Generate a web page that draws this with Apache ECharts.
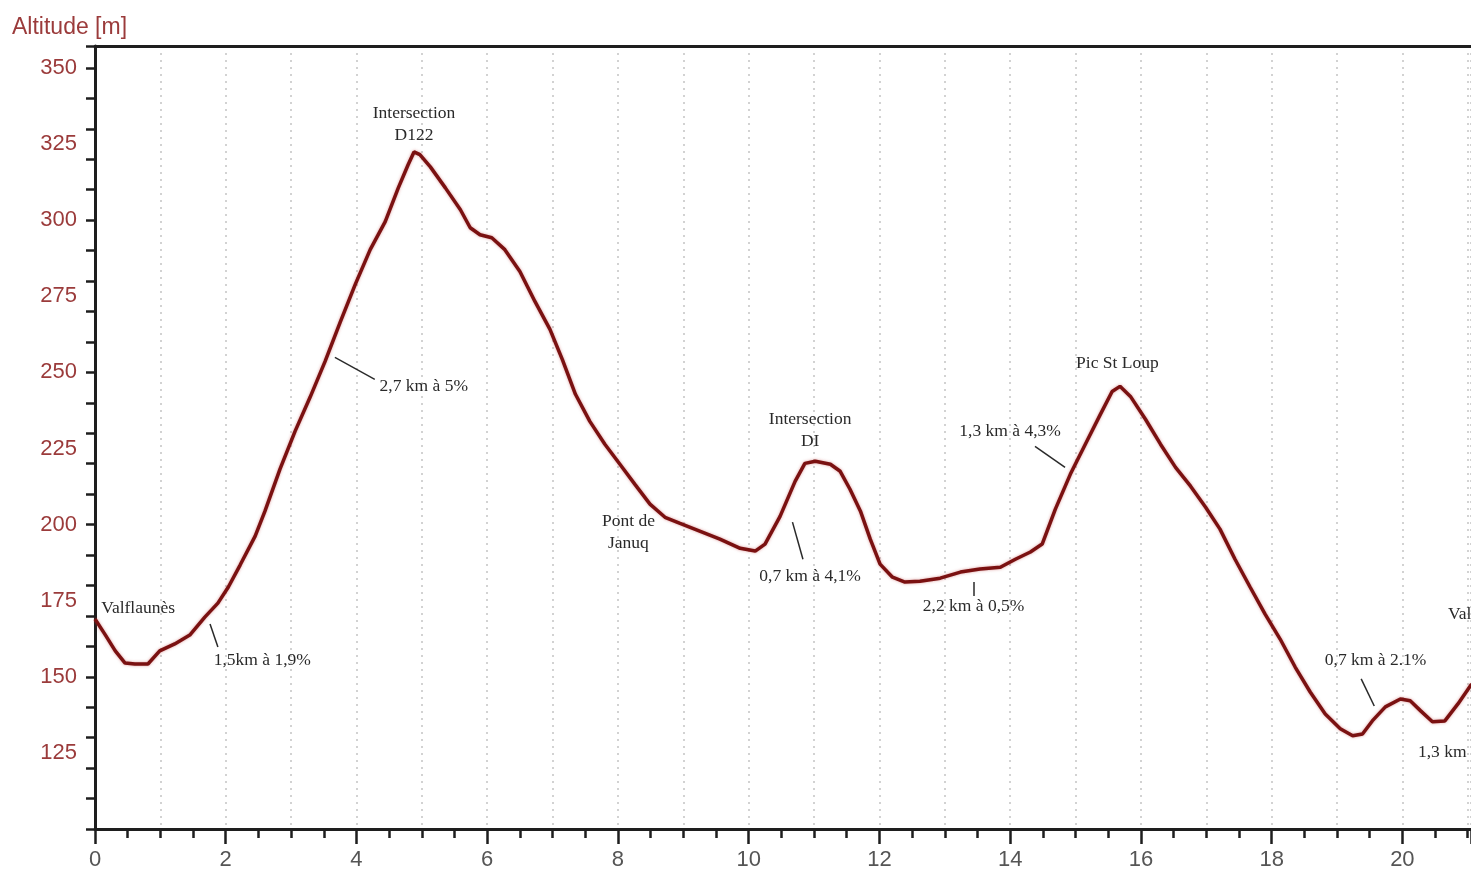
<!DOCTYPE html>
<html><head><meta charset="utf-8">
<script src="https://cdn.jsdelivr.net/npm/echarts@6/dist/echarts.min.js"></script>
<style>html,body{margin:0;padding:0;background:#fff}#c{width:1471px;height:871px}</style>
</head><body><div id="c"></div>
<script>
// Profile data: distance [km] and altitude [m]
const distKm = [0,0.15,0.31,0.46,0.61,0.81,0.99,1.22,1.45,1.68,1.88,2.04,2.22,2.45,2.60,2.83,3.06,3.29,3.52,3.75,3.98,4.21,4.44,4.64,4.79,4.88,4.97,5.13,5.36,5.59,5.74,5.89,6.07,6.27,6.50,6.73,6.96,7.15,7.35,7.57,7.80,8.03,8.26,8.49,8.72,8.95,9.26,9.56,9.87,10.10,10.25,10.48,10.71,10.86,11.02,11.25,11.40,11.55,11.71,11.86,12.01,12.20,12.39,12.62,12.93,13.24,13.54,13.85,14.08,14.31,14.49,14.69,14.92,15.15,15.38,15.56,15.68,15.84,16.07,16.30,16.53,16.76,16.99,17.21,17.44,17.67,17.90,18.13,18.36,18.59,18.82,19.05,19.24,19.39,19.54,19.74,19.97,20.12,20.28,20.46,20.65,20.85,21.06];
const altitudeM = [169,164,158.5,154.5,154.2,154.2,158.5,160.8,163.7,169.6,174.2,179.5,186.7,196.2,204.4,218.2,230.6,241.8,253.6,266.4,278.8,290.3,299.5,310.6,318.2,322.4,321.5,317.5,310.6,303.4,297.5,295.2,294.2,290.3,283.1,273.3,264.1,254.2,242.8,233.9,226.4,219.8,213.2,206.7,202.4,200.4,197.8,195.2,192.2,191.3,193.6,202.7,214.2,220.1,220.8,219.8,217.5,211.6,204.4,195.2,187.0,182.7,181.1,181.4,182.4,184.4,185.4,186.0,188.6,191.0,193.6,205.0,216.5,226.4,236.2,243.7,245.4,242.1,234.6,226.4,218.8,212.6,205.7,198.5,188.6,179.5,170.6,162.4,153.2,145.0,137.8,132.9,130.6,131.2,135.5,140.1,142.7,142.1,138.8,135.2,135.5,141.1,147.6];

// Annotations: text, km, altitude, anchor
const annText = ['Intersection\nD122','2,7 km à 5%','Valflaunès','1,5km à 1,9%','Pont de\nJanuq','Intersection\nDI','0,7 km à 4,1%','Pic St Loup','1,3 km à 4,3%','2,2 km à 0,5%','0,7 km à 2.1%','1,3 km','Valflaunès'];
const annKm   = [4.88,5.03,0.66,2.56,8.16,10.94,10.94,15.64,14.0,13.44,19.59,20.61,20.70];
const annAlt  = [331.6,245.4,172.6,155.5,197.5,230.8,183.1,252.9,230.6,173.2,155.5,125,170.6];
const annAnchor = ['c','c','c','c','c','c','c','c','c','c','c','c','l'];

// Leader lines: from [km, alt] to [km, alt]
const leaderFrom = [[3.67,254.9],[1.76,167.3],[10.67,200.8],[14.38,225.7],[13.45,181.1],[19.37,149.3]];
const leaderTo   = [[4.28,247.7],[1.88,159.8],[10.83,188.6],[14.84,218.8],[13.45,176.5],[19.57,140.4]];

// Axis settings
const yMin = 100, yMax = 357.2, yLabelStep = 25, yTickStep = 10;
const xMin = 0, xMax = 21.05, xLabelStep = 2, xGridStep = 1;

const chart = echarts.init(document.getElementById('c'), null, {renderer:'canvas'});
const lineData = distKm.map((d,i)=>[d, altitudeM[i]]);
const serif = '"Liberation Serif","DejaVu Serif",serif';
const sans = '"Liberation Sans",Arial,sans-serif';

const markPts = annText.map((t,i)=>({
  coord:[annKm[i], annAlt[i]],
  symbol:'circle', symbolSize:0,
  label:{
    show:true, formatter:t,
    position: annAnchor[i]==='l' ? 'right' : 'inside',
    distance:0,
    align: annAnchor[i]==='l' ? 'left' : 'center',
    verticalAlign:'middle',
    color:'#2a2a2a', fontFamily:serif, fontSize:17.5, lineHeight:22
  }
}));
const markLns = leaderFrom.map((f,i)=>[{coord:f},{coord:leaderTo[i]}]);

chart.setOption({
  animation:false,
  backgroundColor:'#fff',
  title:{text:'Altitude [m]', left:7, top:11,
    textStyle:{color:'#9b3b3b', fontFamily:sans, fontSize:23, fontWeight:'normal'}},
  grid:{left:95, right:0, top:46, bottom:41, containLabel:false},
  xAxis:[
    {type:'value', min:xMin, max:xMax, interval:xLabelStep, position:'bottom',
      axisLine:{show:true, onZero:false, lineStyle:{color:'#1e1e1e', width:3}},
      axisTick:{show:true, length:15, lineStyle:{color:'#1e1e1e', width:2.5}},
      minorTick:{show:true, splitNumber:4, length:9, lineStyle:{color:'#1e1e1e', width:2.5}},
      axisLabel:{color:'#555', fontFamily:sans, fontSize:22, margin:20, showMaxLabel:false},
      splitLine:{show:false}},
    {type:'value', min:xMin, max:xMax, interval:xGridStep, position:'top',
      axisLine:{show:true, onZero:false, lineStyle:{color:'#1e1e1e', width:3}},
      axisTick:{show:false}, axisLabel:{show:false},
      splitLine:{show:true, lineStyle:{color:'#c4c4c4', width:1.5, type:[2,5]}}}
  ],
  yAxis:[
    {type:'value', min:yMin, max:yMax, interval:yLabelStep, position:'left',
      axisLine:{show:true, onZero:false, lineStyle:{color:'#1e1e1e', width:3}},
      axisTick:{show:false},
      axisLabel:{color:'#9b3b3b', fontFamily:sans, fontSize:22, margin:18, showMaxLabel:false, showMinLabel:false},
      splitLine:{show:false}},
    {type:'value', min:yMin, max:yMax, interval:yTickStep, position:'left',
      axisLine:{show:false}, axisLabel:{show:false}, splitLine:{show:false},
      axisTick:{show:true, length:9, lineStyle:{color:'#1e1e1e', width:2.5}}}
  ],
  series:[{
    type:'line', data:lineData, xAxisIndex:0, yAxisIndex:0,
    showSymbol:false, smooth:false, clip:false,
    lineStyle:{color:'#7a1111', width:3.5, shadowColor:'rgba(190,60,60,0.5)', shadowBlur:3},
    markPoint:{silent:true, data:markPts, animation:false},
    markLine:{silent:true, symbol:['none','none'], animation:false,
      label:{show:false},
      lineStyle:{color:'#2a2a2a', width:1.5, type:'solid'},
      emphasis:{disabled:true},
      data:markLns}
  }]
});
</script></body></html>
